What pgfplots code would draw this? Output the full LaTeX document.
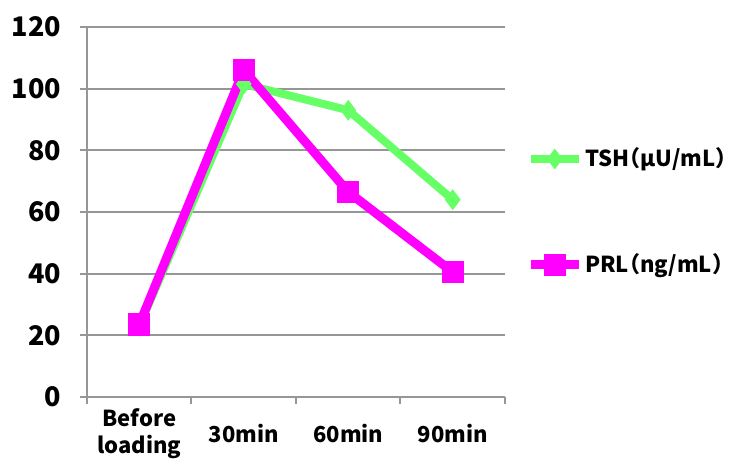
\documentclass[border=0pt]{standalone}
\usepackage{pgfplots}
\pgfplotsset{compat=1.18}
\usepackage{fontspec}
\setmainfont{Noto Sans CJK JP}
\definecolor{tshgreen}{RGB}{102,255,102}
\definecolor{prlmag}{RGB}{255,0,255}
\definecolor{gridgray}{RGB}{150,150,150}
\begin{document}
\begin{tikzpicture}
\useasboundingbox (0,0) rectangle (375pt,237.5pt);
\begin{axis}[
  at={(43.5pt,39pt)}, anchor=south west,
  scale only axis, width=209pt, height=185pt,
  xmin=-0.5, xmax=3.5, ymin=0, ymax=120,
  ytick={0,20,...,120},
  xtick={0,1,2,3},
  xticklabels={{Before\\loading},30min,60min,90min},
  minor xtick={-0.5,0.5,1.5,2.5,3.5},
  axis x line*=bottom, axis y line*=left,
  axis line style={gridgray, line width=1pt, -},
  ymajorgrids, grid style={gridgray, line width=1pt},
  tick align=outside,
  major tick length=3.5pt, minor tick length=3.5pt,
  tick style={gridgray, line width=1pt},
  major x tick style={draw=none},
  /pgf/number format/assume math mode=true,
  xticklabel style={font=\fontsize{11}{13.5}\selectfont\bfseries, align=center, anchor=center, yshift=-15pt},
  yticklabel style={font=\fontsize{13.5}{15}\selectfont\bfseries, anchor=east, xshift=-6pt},
  legend cell align=left,
  legend style={at={(1.05,0.5)}, anchor=west, draw=none, fill=none,
    inner sep=0pt, row sep=40pt, font=\fontsize{11}{13}\selectfont\bfseries\addfontfeature{RawFeature=+halt},
    nodes={inner sep=1pt}},
  legend image code/.code={\draw[mark repeat=2,mark phase=2,#1] plot coordinates {(0pt,0pt) (12pt,0pt) (24pt,0pt)};},
]
\addplot[tshgreen, line width=4pt, mark=diamond*, mark size=4.8pt, mark options={solid, line width=0.5pt}]
  coordinates {(0,23) (1,101.5) (2,93) (3,64)};
\addlegendentry{TSH（μU/mL）}
\addplot[prlmag, line width=4.5pt, mark=square*, mark size=5.3pt, mark options={solid, line width=0.5pt}]
  coordinates {(0,23.5) (1,106) (2,66.5) (3,40.5)};
\addlegendentry{PRL（ng/mL）}
\end{axis}
\end{tikzpicture}
\end{document}
